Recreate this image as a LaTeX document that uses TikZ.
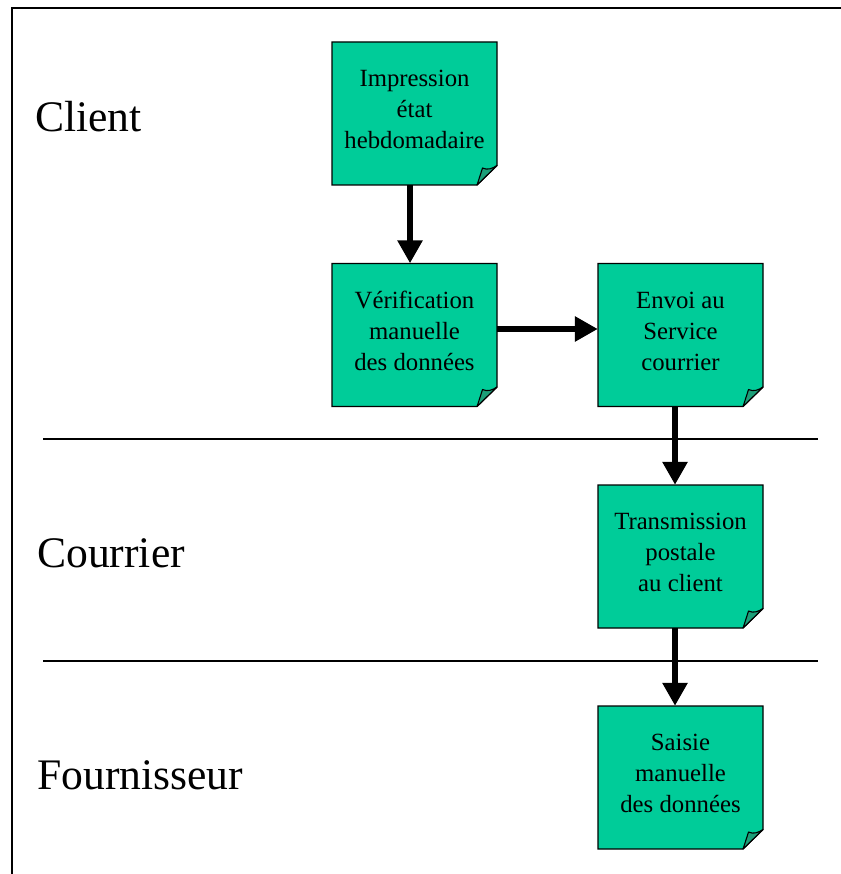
\documentclass[tikz,border=0pt]{standalone}
\usepackage{fontspec}
\setmainfont{Liberation Serif}
\usetikzlibrary{arrows.meta}
\definecolor{notegreen}{HTML}{00CC99}
\definecolor{flapgreen}{HTML}{1C9E78}
\tikzset{
  note/.style={minimum width=165pt, minimum height=143pt, inner sep=0pt,
    align=center, font=\fontsize{24.75pt}{31pt}\selectfont},
  notebody/.style={fill=notegreen, draw=black, line width=1.3pt, line join=miter},
  noteflap/.style={fill=flapgreen, draw=black, line width=1.1pt, line join=round},
  flow/.style={line width=6pt, -{Triangle[length=23pt,width=24pt]}},
  lane/.style={line width=1.4pt},
  frame/.style={line width=2pt},
  lanelabel/.style={anchor=west, inner sep=0pt, font=\fontsize{43.6pt}{50pt}\selectfont}
}
\begin{document}
\begin{tikzpicture}[x=1pt, y=-1pt]
\useasboundingbox (0,0) rectangle (840,874);
\fill[white] (0,0) rectangle (840,874);

% page frame (top and left edges)
\coordinate (ftl) at (11.5,8.5);
\coordinate (ftr) at (841,8.5);
\coordinate (fbl) at (11.5,875);
\draw[frame] (ftr) -- (ftl) -- (fbl);

% lane separators
\coordinate (l1a) at (43,439);
\coordinate (l1b) at (818,439);
\coordinate (l2a) at (43,661);
\coordinate (l2b) at (818,661);
\draw[lane] (l1a) -- (l1b);
\draw[lane] (l2a) -- (l2b);

% lane names
\node[lanelabel] (client) at (35,117) {Client};
\node[lanelabel] (courrier) at (37,553) {Courrier};
\node[lanelabel] (fourn) at (37,775) {Fournisseur};

% note outlines (rectangles with a folded bottom-right corner)
\foreach \cx/\cy in {414.5/113.5, 414.5/335, 680.5/335, 680.5/556.5, 680.5/777.5} {
  \path[notebody] (\cx-82.5,\cy-71.5) -- (\cx+82.5,\cy-71.5) -- (\cx+82.5,\cy+52)
    -- (\cx+62.5,\cy+71.5) -- (\cx-82.5,\cy+71.5) -- cycle;
  \path[noteflap] (\cx+62.5,\cy+71.5) .. controls (\cx+65,\cy+64) .. (\cx+68,\cy+54.5)
    .. controls (\cx+73,\cy+57) and (\cx+78,\cy+55) .. (\cx+82.5,\cy+52) -- cycle;
}

% note texts
\node[note] (impr) at (414.5,109.5) {Impression\\état\\hebdomadaire};
\node[note] (verif) at (414.5,331) {Vérification\\manuelle\\des données};
\node[note] (envoi) at (680.5,331) {Envoi au\\Service\\courrier};
\node[note] (trans) at (680.5,552.5) {Transmission\\postale\\au client};
\node[note] (saisie) at (680.5,773.5) {Saisie\\manuelle\\des données};

% flow arrows
\draw[flow] ([shift={(-4.5pt,-4pt)}]impr.south) -- ([shift={(-4.5pt,-4pt)}]verif.north);
\draw[flow] ([yshift=2pt]verif.east) -- ([yshift=2pt]envoi.west);
\draw[flow] ([shift={(-5.5pt,-4pt)}]envoi.south) -- ([shift={(-5.5pt,-4pt)}]trans.north);
\draw[flow] ([shift={(-5.5pt,-4pt)}]trans.south) -- ([shift={(-5.5pt,-4pt)}]saisie.north);
\end{tikzpicture}
\end{document}
